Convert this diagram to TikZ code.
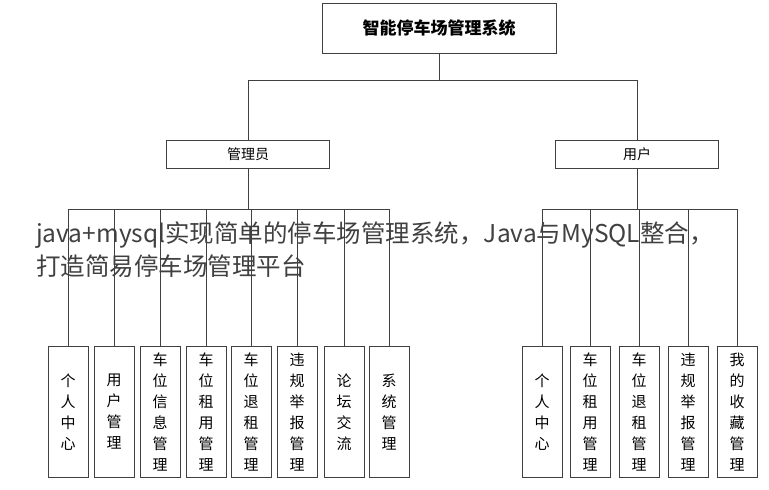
\documentclass[tikz,border=0pt]{standalone}
\usepackage{fontspec}
\setmainfont{Noto Sans CJK SC}
\begin{document}
\begin{tikzpicture}[x=1pt,y=-1pt,
  box/.style={draw=black!75,line width=0.8pt,fill=white,inner sep=0pt,font=\fontsize{14}{16}\selectfont},
  leaf/.style={box,minimum width=40pt,minimum height=131pt,align=center,font=\fontsize{15}{21}\selectfont},
  wire/.style={draw=black!75,line width=0.8pt}]
\useasboundingbox (0,0) rectangle (769,490);
% top levels
\node[box,minimum width=234pt,minimum height=50pt,font=\fontsize{17}{19}\selectfont\bfseries] (sys) at (439,28) {智能停车场管理系统};
\node[box,minimum width=163pt,minimum height=28pt] (admin) at (248,154) {管理员};
\node[box,minimum width=163pt,minimum height=28pt] (user) at (637,154) {用户};
\coordinate (top) at (439,80);
\draw[wire] (sys) -- (top) -| (admin);
\draw[wire] (top) -| (user);
% admin leaves
\foreach \i/\x/\t in {1/68/个\\人\\中\\心, 2/114/用\\户\\管\\理, 3/160/车\\位\\信\\息\\管\\理,
  4/206/车\\位\\租\\用\\管\\理, 5/251/车\\位\\退\\租\\管\\理, 6/297/违\\规\\举\\报\\管\\理,
  7/344/论\\坛\\交\\流, 8/389/系\\统\\管\\理}{
  \node[leaf] (a\i) at (\x,412) {\t};
  \draw[wire] (admin.south) |- (\x,209) -- (a\i.north);
}
% user leaves
\foreach \i/\x/\t in {1/542/个\\人\\中\\心, 2/590/车\\位\\租\\用\\管\\理, 3/639/车\\位\\退\\租\\管\\理,
  4/688/违\\规\\举\\报\\管\\理, 5/737/我\\的\\收\\藏\\管\\理}{
  \node[leaf] (u\i) at (\x,412) {\t};
  \draw[wire] (user.south) |- (\x,209) -- (u\i.north);
}
% overlay caption
\node[anchor=north west,align=left,text=black!75,inner sep=0pt,
  font=\fontsize{24.5}{33}\selectfont] (cap) at (36,222)
  {java+mysql实现简单的停车场管理系统，Java与MySQL整合，\\打造简易停车场管理平台};
\end{tikzpicture}
\end{document}
